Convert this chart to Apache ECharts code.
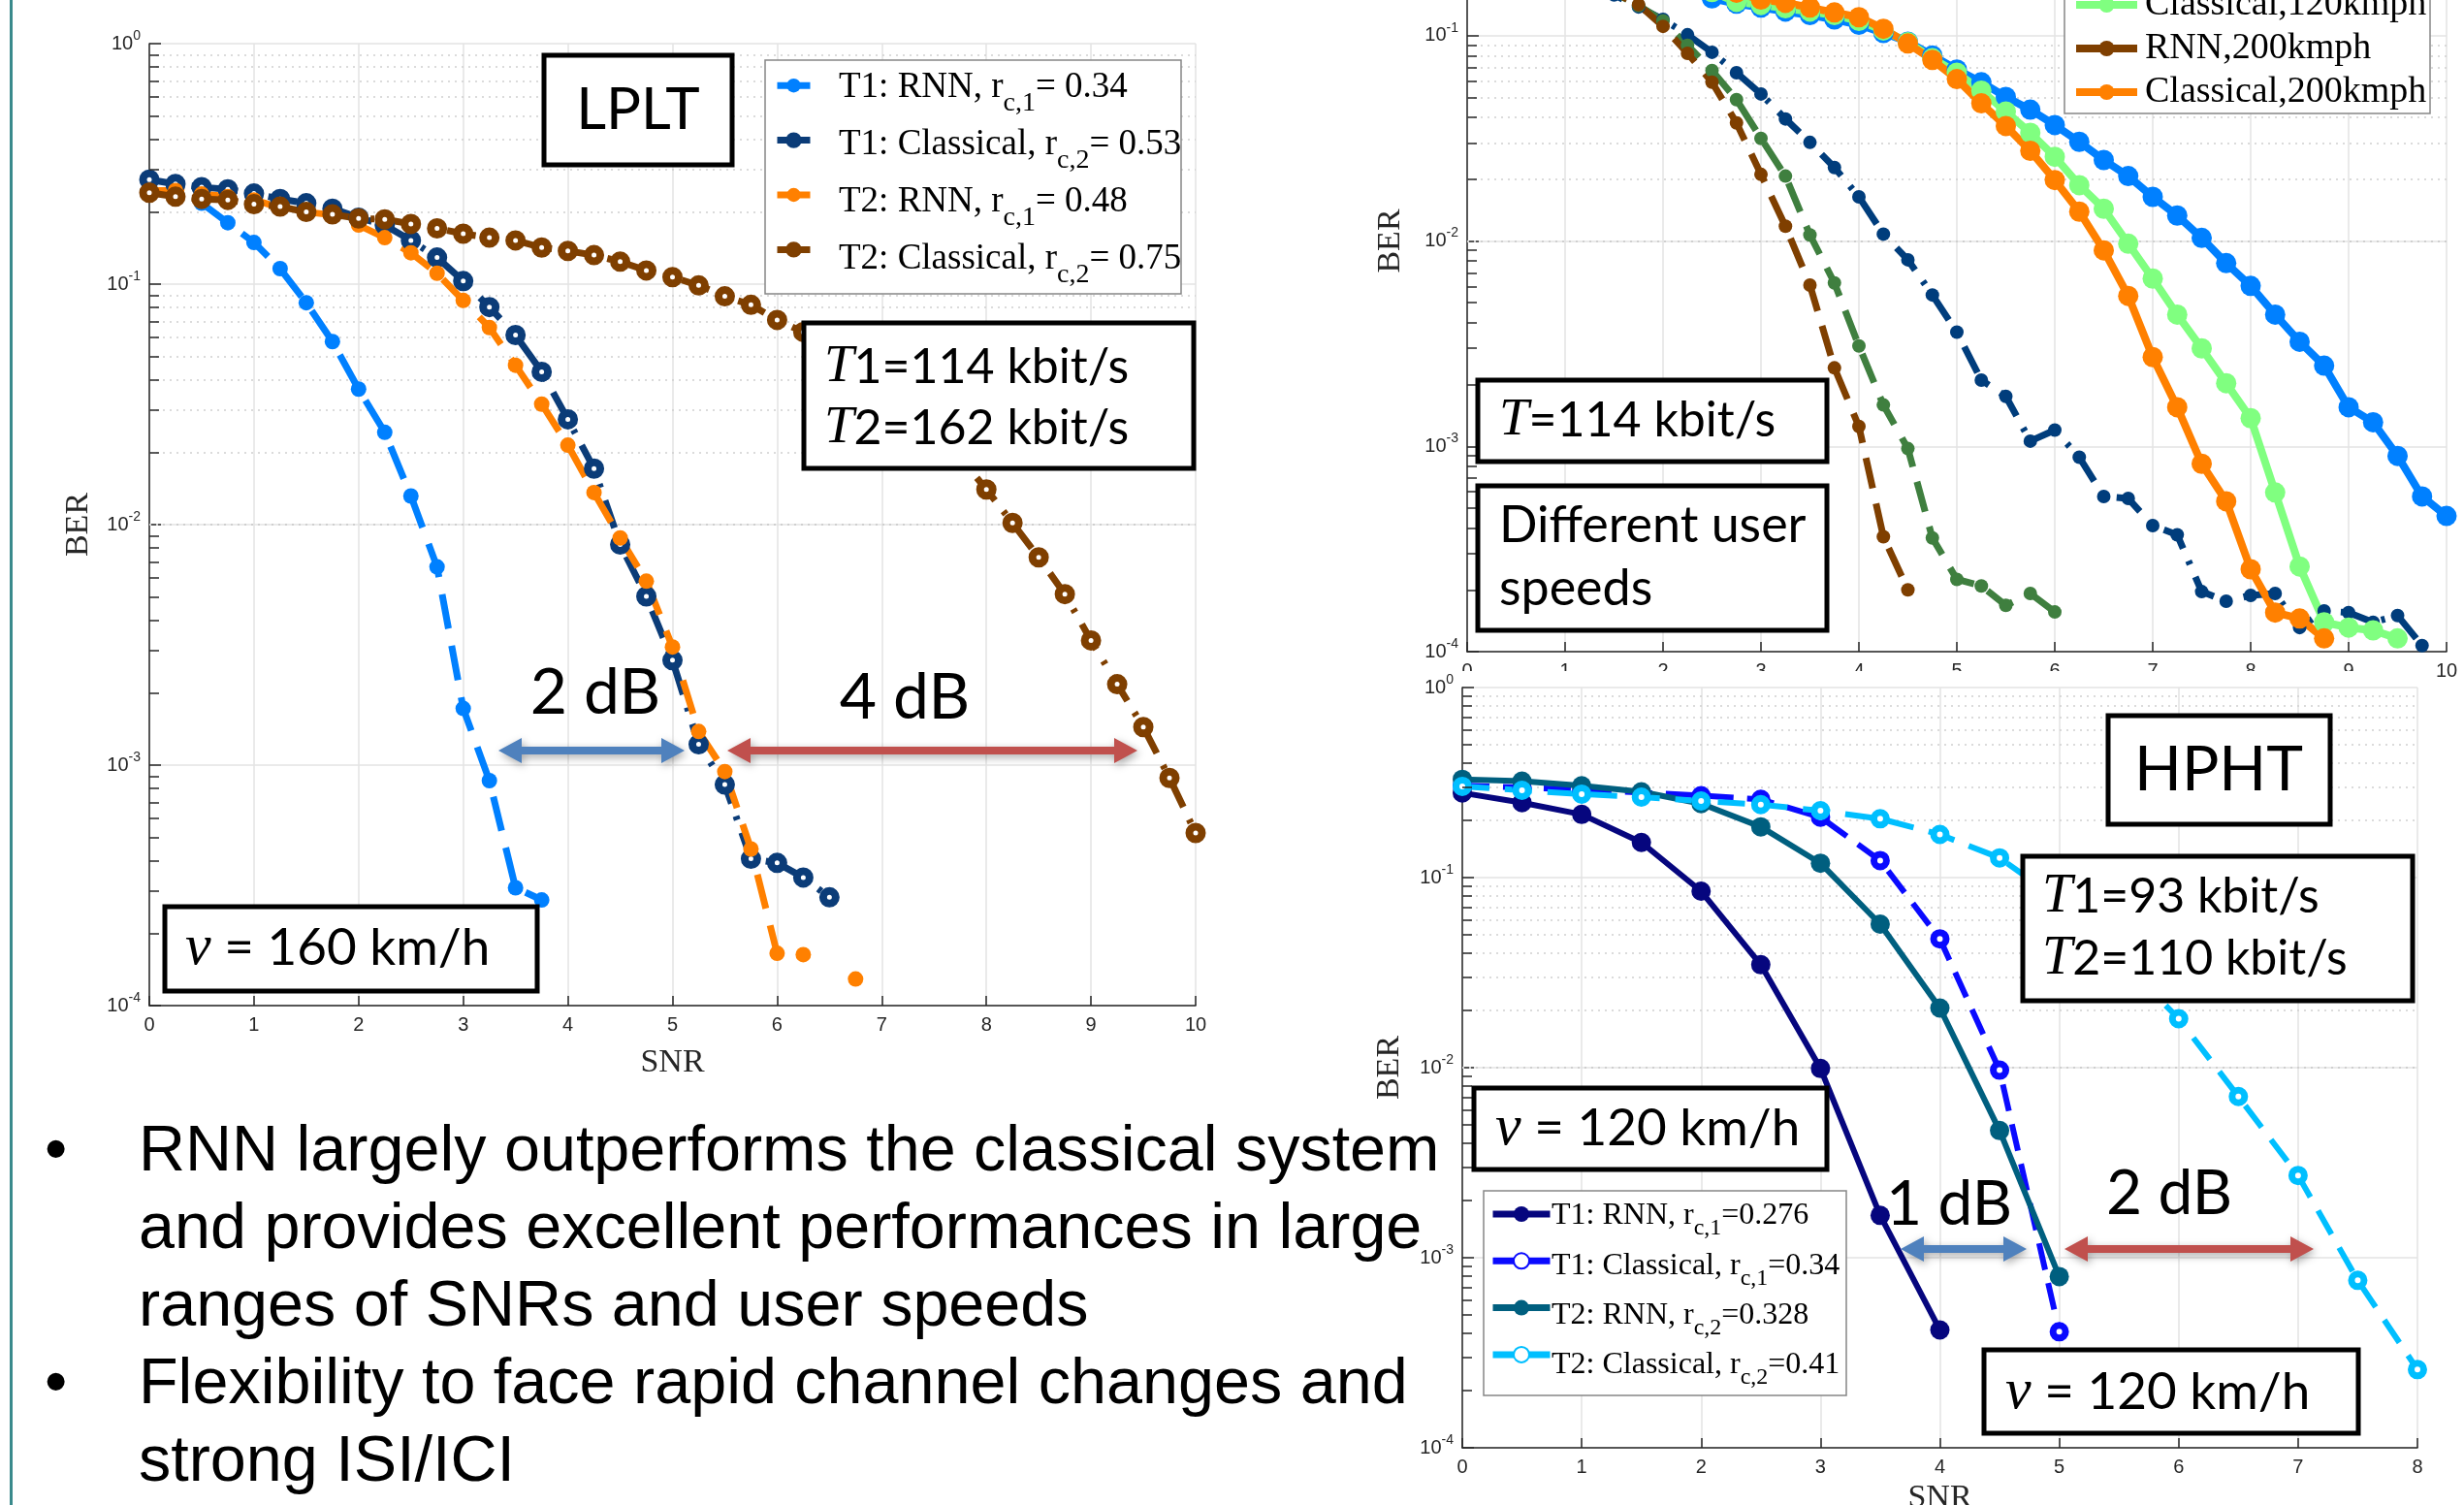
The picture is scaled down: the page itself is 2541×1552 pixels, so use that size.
<!DOCTYPE html>
<html><head><meta charset="utf-8">
<script src="https://cdn.jsdelivr.net/npm/echarts@6/dist/echarts.min.js"></script>
<style>
html,body{margin:0;padding:0;background:#fff;width:2541px;height:1552px;overflow:hidden;position:relative;}
#chartA{position:absolute;left:0;top:0;width:2541px;height:1552px;}
#chartB{position:absolute;left:1400px;top:692px;width:1108px;height:860px;background:#fff;}
#txt{position:absolute;left:0;top:1144px;font-family:'Liberation Sans',Arial,sans-serif;font-size:66.5px;line-height:80px;color:#000;white-space:nowrap;z-index:5;pointer-events:none;}
#txt .b{position:relative;padding-left:143px;}
#txt .dot{position:absolute;left:46px;top:0;}
</style></head><body>
<div id="chartA"></div>
<div id="chartB"></div>
<div id="txt">
<div class="b"><span class="dot">•</span>RNN largely outperforms the classical system<br>and provides excellent performances in large<br>ranges of SNRs and user speeds</div>
<div class="b"><span class="dot">•</span>Flexibility to face rapid channel changes and<br>strong ISI/ICI</div>
</div>
<script>
// ---------- shared SNR grids ----------
const snrQ = [0,0.25,0.5,0.75,1,1.25,1.5,1.75,2,2.25,2.5,2.75,3,3.25,3.5,3.75,4,4.25,4.5,4.75,5,5.25,5.5,5.75,6,6.25,6.5,6.75,7,7.25,7.5,7.75,8,8.25,8.5,8.75,9,9.25,9.5,9.75,10];
const snrH = [0,0.5,1,1.5,2,2.5,3,3.5,4,4.5,5,5.5,6,6.5,7,7.5,8];

// ---------- LPLT chart (left) ----------
const lpltNames = ['T1: RNN, rc,1 = 0.34','T1: Classical, rc,2 = 0.53','T2: RNN, rc,1 = 0.48','T2: Classical, rc,2 = 0.75'];
const lpltLegendParts = [['T1: RNN, r','c,1','= 0.34'],['T1: Classical, r','c,2','= 0.53'],['T2: RNN, r','c,1','= 0.48'],['T2: Classical, r','c,2','= 0.75']];
const lpltT1RNN = [0.25,0.235,0.217,0.18,0.149,0.116,0.0837,0.0577,0.0366,0.0242,0.01315,0.00667,0.00172,0.000862,0.000309,0.000275];
const lpltT1Cls = [0.272,0.261,0.253,0.248,0.238,0.226,0.217,0.206,0.189,0.176,0.152,0.129,0.103,0.0803,0.0614,0.0432,0.0274,0.0171,0.00827,0.00503,0.00273,0.00122,0.00083,0.000408,0.000392,0.000341,0.000282];
const lpltT2RNN = [0.245,0.245,0.237,0.231,0.224,0.208,0.1995,0.194,0.176,0.156,0.135,0.111,0.0855,0.066,0.046,0.0317,0.0214,0.0136,0.0088,0.00582,0.0031,0.00138,0.00094,0.000448,0.000165,0.000163,null,0.000129];
const lpltT2Cls = [0.240,0.231,0.226,0.224,0.215,0.21,0.1995,0.195,0.1875,0.186,0.178,0.1705,0.162,0.156,0.152,0.142,0.1375,0.132,0.124,0.114,0.107,0.0988,0.089,0.082,0.071,0.0632,0.055,0.046,0.038,0.031,0.025,0.019,0.0140,0.01016,0.00731,0.00514,0.0033,0.00217,0.00144,0.000884,0.000522];

// ---------- user speed chart (top right) ----------
const speedNames = ['RNN,40kmph','Classical,40kmph','RNN,120kmph','Classical,120kmph','RNN,200kmph','Classical,200kmph'];
const speedLegendShown = ['Classical,120kmph','RNN,200kmph','Classical,200kmph'];
const spdRNNa = [0.27,0.262,0.252,0.238,0.222,0.19,0.158,0.138,0.12,0.101,0.083,0.066,0.052,0.0393,0.0302,0.0228,0.0164,0.0108,0.0081,0.00546,0.0036,0.0021,0.00175,0.00106,0.0012,0.000885,0.00057,0.000557,0.000411,0.000371,0.000196,0.000176,0.000188,0.000192,0.000131,0.000158,0.000155,0.000139,0.00015,0.000107];
const spdClsA = [0.272,0.261,0.253,0.248,0.238,0.226,0.217,0.206,0.189,0.172,0.152,0.143,0.137,0.131,0.126,0.12,0.113,0.103,0.0935,0.08,0.0684,0.0593,0.0503,0.0436,0.0367,0.0304,0.0248,0.0207,0.0164,0.0133,0.01035,0.0078,0.00604,0.00438,0.00323,0.00247,0.00155,0.00131,0.000898,0.00057,0.000458];
const spdRNN120 = [0.27,0.262,0.252,0.238,0.222,0.192,0.162,0.14,0.118,0.0897,0.0676,0.0488,0.0316,0.0207,0.0107,0.00625,0.00308,0.00159,0.000975,0.000358,0.000225,0.000209,0.000168,0.000192,0.000156];
const spdCls120 = [0.272,0.262,0.255,0.248,0.238,0.227,0.217,0.206,0.192,0.178,0.163,0.146,0.141,0.136,0.131,0.126,0.118,0.106,0.093,0.0776,0.066,0.054,0.0427,0.0336,0.0257,0.0187,0.01436,0.0097,0.00656,0.00438,0.003,0.00203,0.00137,0.000596,0.00026,0.000139,0.000131,0.000127,0.000116];
const spdRNN200 = [0.27,0.262,0.252,0.238,0.222,0.192,0.162,0.1415,0.111,0.082,0.0593,0.0376,0.0211,0.0118,0.0061,0.00241,0.00125,0.000363,0.0002];
const spdCls200 = [0.275,0.265,0.257,0.25,0.24,0.23,0.22,0.21,0.2,0.188,0.175,0.162,0.15,0.1445,0.137,0.1297,0.123,0.108,0.0916,0.0762,0.0614,0.0468,0.0363,0.0275,0.0198,0.0139,0.009,0.0054,0.00272,0.00155,0.000822,0.00054,0.000252,0.000155,0.000145,0.000116];

// ---------- HPHT chart (bottom right) ----------
const hphtNames = ['T1: RNN, rc,1=0.276','T1: Classical, rc,1=0.34','T2: RNN, rc,2=0.328','T2: Classical, rc,2=0.41'];
const hphtLegendParts = [['T1: RNN, r','c,1','=0.276'],['T1: Classical, r','c,1','=0.34'],['T2: RNN, r','c,2','=0.328'],['T2: Classical, r','c,2','=0.41']];
const hphtT1RNN = [0.279,0.248,0.215,0.153,0.0848,0.0348,0.0099,0.00167,0.000417];
const hphtT1Cls = [0.305,0.298,0.29,0.28,0.27,0.258,0.208,0.123,0.0476,0.0097,0.000408];
const hphtT2RNN = [0.329,0.322,0.304,0.283,0.245,0.185,0.119,0.0569,0.0206,0.00467,0.000796];
const hphtT2Cls = [0.302,0.288,0.275,0.265,0.253,0.242,0.225,0.204,0.1686,0.127,0.076,0.038,0.0181,0.00705,0.00271,0.00076,0.000258];

// ---------- helpers ----------
const pairs = (xs, ys) => ys.map((v, i) => [xs[i], v]);
const minorVals = [];
for (let e = -4; e < 0; e++) for (let k = 2; k <= 9; k++) minorVals.push(+(k * Math.pow(10, e)).toPrecision(3));
const AX = '#262626';
const GRIDC = '#e3e3e3';
const SERIF = 'Liberation Serif';
const mctx = document.createElement('canvas').getContext('2d');
function measure(str, size) { mctx.font = size + 'px "' + SERIF + '"'; return mctx.measureText(str).width; }

// dotted minor grid lines of the log axis
function minorLines() {
  return {silent:true, z:1, symbol:['none','none'], label:{show:false}, emphasis:{disabled:true},
    lineStyle:{color:'#cfcfcf', type:[2,5], width:1.5}, animation:false,
    data: minorVals.map(v => ({yAxis: v}))};
}
// short inward minor ticks on the log axis (tickLen given in x-data units)
function minorTicks(tickLen) {
  return {silent:true, z:6, symbol:['none','none'], label:{show:false}, emphasis:{disabled:true},
    lineStyle:{color:AX, type:'solid', width:1.5}, animation:false,
    data: minorVals.map(v => [{coord:[0, v]}, {coord:[tickLen, v]}])};
}
function ser(name, gi, xs, ys, color, o) {
  const s = {type:'line', name, xAxisIndex:gi, yAxisIndex:gi, data:pairs(xs, ys),
    showSymbol:true, showAllSymbol:true, symbol:'circle', symbolSize:o.size,
    lineStyle:{color, width:o.lw, type:o.dash || 'solid', cap:'butt'},
    itemStyle: o.hollow ? {color:'#fff', borderColor:color, borderWidth:o.bw} : {color},
    emphasis:{disabled:true}, connectNulls:false, z:o.z || 3, animation:false};
  if (o.minor) s.markLine = minorLines();
  if (o.ticks) s.markLine = minorTicks(o.ticks);
  return s;
}
function mkX(gi, max, nameGap) {
  return {type:'value', gridIndex:gi, min:0, max, interval:1,
    name:'SNR', nameLocation:'middle', nameGap,
    nameTextStyle:{fontFamily:SERIF, fontSize:34, color:AX},
    axisLine:{show:true, onZero:false, lineStyle:{color:AX, width:1.5}},
    axisTick:{show:true, inside:true, length:10, lineStyle:{color:AX, width:1.5}},
    axisLabel:{margin:10, fontFamily:'Liberation Sans', fontSize:20, color:AX},
    splitLine:{show:true, lineStyle:{color:GRIDC, width:1.5}}};
}
function mkY(gi, nameGap) {
  return {type:'log', logBase:10, gridIndex:gi, min:1e-4, max:1,
    name:'BER', nameLocation:'middle', nameGap,
    nameTextStyle:{fontFamily:SERIF, fontSize:34, color:AX},
    axisLine:{show:true, lineStyle:{color:AX, width:1.5}},
    axisTick:{show:true, inside:true, length:12, lineStyle:{color:AX, width:1.5}},
    axisLabel:{margin:9, fontFamily:'Liberation Sans', fontSize:20, color:AX,
      formatter: v => '{b|10}{s|' + Math.round(Math.log10(v)) + '}',
      rich:{b:{fontFamily:'Liberation Sans', fontSize:20, color:AX},
            s:{fontFamily:'Liberation Sans', fontSize:14, color:AX, padding:[0,0,16,0]}}},
    splitLine:{show:true, lineStyle:{color:GRIDC, width:1.5}}};
}
// legend component draws the icons; labels with true subscripts are drawn as text next to them
const plain = (x, y, text, fs) => ({type:'text', z:21, x, y,
  style:{text, font:fs + 'px "' + SERIF + '"', fontFamily:SERIF, fontSize:fs, fill:'#000',
    align:'left', verticalAlign:'middle', textAlign:'left', textVerticalAlign:'middle'}});
function legendLabels(parts, x0, y0, pitch, fs, sfs, off) {
  const els = [];
  parts.forEach((p, i) => {
    const y = y0 + i * pitch;
    const w1 = measure(p[0], fs), w2 = measure(p[1], sfs);
    els.push(plain(x0, y, p[0], fs), plain(x0 + w1, y + off, p[1], sfs), plain(x0 + w1 + w2, y, p[2], fs));
  });
  return els;
}
const iconLegend = (names, left, top, gap, w, h, lw, extraStyle) => ({
  data: names.map((n, i) => extraStyle && extraStyle[i] ? {name:n, itemStyle:extraStyle[i]} : n),
  orient:'vertical', left, top, padding:0, itemGap:gap, itemWidth:w, itemHeight:h,
  itemTextGap:0, selectedMode:false, z:20, formatter: () => ' ',
  lineStyle:{width:lw, type:'solid'},
  textStyle:{fontSize:1, color:'rgba(0,0,0,0)'}});
const box = (x, y, w, h) => ({type:'rect', z:10, shape:{x, y, width:w, height:h}, style:{fill:'#fff', stroke:'#000', lineWidth:5}});
const thinBox = (x, y, w, h) => ({type:'rect', z:10, shape:{x, y, width:w, height:h}, style:{fill:'#fff', stroke:'#868686', lineWidth:1.5}});
const txt = (x, y, text, rich, align) => ({type:'text', z:12, x, y,
  style:{text, rich, align:align || 'left', verticalAlign:'middle', textAlign:align || 'left', textVerticalAlign:'middle', fill:'#000'}});
function arrow(x1, x2, y, color) {
  const hl = 24, hh = 13, st = 4;
  return {type:'polygon', z:11, shape:{points:[[x1,y],[x1+hl,y-hh],[x1+hl,y-st],[x2-hl,y-st],[x2-hl,y-hh],[x2,y],[x2-hl,y+hh],[x2-hl,y+st],[x1+hl,y+st],[x1+hl,y+hh]]},
    style:{fill:color, shadowBlur:8, shadowColor:'rgba(0,0,0,0.35)', shadowOffsetX:2, shadowOffsetY:3}};
}
const richBox = (tSize, aSize) => ({
  i:{fontFamily:SERIF, fontStyle:'italic', fontSize:tSize, fill:'#000', color:'#000'},
  a:{fontFamily:'Lato', fontSize:aSize, fill:'#000', color:'#000'}});
const BLUEA = '#4f81bd', REDA = '#c0504d';
const C = {lb:'#0080ff', nv:'#0b3c78', or:'#ff8000', br:'#7f3f00'};

// ---------- chart A ----------
const chartA = echarts.init(document.getElementById('chartA'), null, {renderer:'canvas'});
chartA.setOption({
  animation:false,
  grid:[
    {left:154, top:45, width:1079, height:992, outerBoundsMode:'none', containLabel:false},
    {left:1513, top:-175, width:1010, height:847, outerBoundsMode:'none', containLabel:false}
  ],
  xAxis:[mkX(0, 10, 42), mkX(1, 10, 42)],
  yAxis:[mkY(0, 56), mkY(1, 62)],
  legend:[
    iconLegend(lpltNames, 798, 81, 41, 34, 18, 7,
      [null, {color:C.nv, borderColor:C.nv}, null, {color:C.br, borderColor:C.br}]),
    {data:speedLegendShown, orient:'vertical', left:2137, top:-14, padding:0, itemGap:7,
      itemWidth:63, itemHeight:20, itemTextGap:5, selectedMode:false, z:20,
      lineStyle:{width:8, type:'solid'},
      formatter: n => '{f|' + n + '}',
      textStyle:{fontFamily:SERIF, fontSize:38, color:'#000',
        rich:{f:{fontFamily:SERIF, fontSize:38, color:'#000', padding:[0,0,0,3]}}}}
  ],
  series:[
    ser(lpltNames[0], 0, snrQ, lpltT1RNN, C.lb, {size:16, lw:7, dash:[36,18], minor:true}),
    ser(lpltNames[1], 0, snrQ, lpltT1Cls, C.nv, {size:13, lw:7, dash:[30,14,4,14], hollow:true, bw:8, ticks:0.093}),
    ser(lpltNames[2], 0, snrQ, lpltT2RNN, C.or, {size:16, lw:7, dash:[36,18]}),
    ser(lpltNames[3], 0, snrQ, lpltT2Cls, C.br, {size:13, lw:7, dash:[30,14,4,14], hollow:true, bw:8}),
    ser(speedNames[0], 1, snrQ, spdRNNa, '#003d7c', {size:14, lw:7, dash:[30,14,4,14], minor:true}),
    ser(speedNames[1], 1, snrQ, spdClsA, '#0080ff', {size:21, lw:8, ticks:0.099}),
    ser(speedNames[2], 1, snrQ, spdRNN120, '#3f7f3f', {size:14, lw:7, dash:[32,16]}),
    ser(speedNames[3], 1, snrQ, spdCls120, '#80ff80', {size:21, lw:8}),
    ser(speedNames[4], 1, snrQ, spdRNN200, '#7f3f00', {size:14, lw:7, dash:[32,16]}),
    ser(speedNames[5], 1, snrQ, spdCls200, '#ff8000', {size:21, lw:8})
  ],
  graphic:[
    {type:'rect', z:10, shape:{x:10, y:0, width:3, height:1552}, style:{fill:'#3a8a8c'}},
    thinBox(789, 62, 429, 241),
    thinBox(2129, -20, 377, 137),
    box(561, 57, 194, 113),
    txt(658, 114, '{a|LPLT}', {a:{fontFamily:'Lato', fontSize:60, fill:'#000'}}, 'center'),
    box(829, 333, 402, 150),
    txt(850, 379, '{i|T}{a|1=114 kbit/s}', richBox(55, 50)),
    txt(850, 442, '{i|T}{a|2=162 kbit/s}', richBox(55, 50)),
    box(170, 935, 384, 87),
    txt(191, 978, '{i|v}{a| = 160 km/h}', richBox(60, 53)),
    txt(614, 715, '{a|2 dB}', {a:{fontFamily:'Lato', fontSize:66, fill:'#000'}}, 'center'),
    txt(933, 720, '{a|4 dB}', {a:{fontFamily:'Lato', fontSize:66, fill:'#000'}}, 'center'),
    arrow(514, 706, 774, BLUEA),
    arrow(750, 1173, 774, REDA),
    box(1524, 392, 360, 84),
    txt(1546, 434, '{i|T}{a|=114 kbit/s}', richBox(55, 50)),
    box(1524, 501, 360, 149),
    txt(1546, 542, '{a|Different user}', richBox(56, 52)),
    txt(1546, 607, '{a|speeds}', richBox(56, 52))
  ].concat(legendLabels(lpltLegendParts, 865, 90, 59, 37, 28, 17))
});

// ---------- chart B (div origin 1400, 692) ----------
const chartB = echarts.init(document.getElementById('chartB'), null, {renderer:'canvas'});
chartB.setOption({
  animation:false,
  grid:[{left:108, top:17, width:985, height:784, outerBoundsMode:'none', containLabel:false}],
  xAxis:[mkX(0, 8, 34)],
  yAxis:[mkY(0, 58)],
  legend:[iconLegend(hphtNames, 136, 552, 31.3, 59, 20, 7)],
  series:[
    ser(hphtNames[0], 0, snrH, hphtT1RNN, '#06067e', {size:20, lw:6, minor:true}),
    ser(hphtNames[1], 0, snrH, hphtT1Cls, '#0a0aff', {size:13, lw:6, dash:[28,14], hollow:true, bw:7, ticks:0.081}),
    ser(hphtNames[2], 0, snrH, hphtT2RNN, '#005f7f', {size:20, lw:6}),
    ser(hphtNames[3], 0, snrH, hphtT2Cls, '#00bfff', {size:13, lw:6, dash:[28,16], hollow:true, bw:7})
  ],
  graphic:[
    thinBox(130, 536, 374, 211),
    box(774, 46, 229, 112),
    txt(888, 102, '{a|HPHT}', {a:{fontFamily:'Lato', fontSize:64, fill:'#000'}}, 'center'),
    box(686, 191, 402, 149),
    txt(706, 233, '{i|T}{a|1=93 kbit/s}', richBox(56, 50)),
    txt(706, 297, '{i|T}{a|2=110 kbit/s}', richBox(56, 50)),
    box(120, 430, 364, 84),
    txt(142, 472, '{i|v}{a| = 120 km/h}', richBox(60, 53)),
    box(646, 700, 386, 86),
    txt(668, 744, '{i|v}{a| = 120 km/h}', richBox(60, 53)),
    txt(610, 550, '{a|1 dB}', {a:{fontFamily:'Lato', fontSize:64, fill:'#000'}}, 'center'),
    txt(837, 539, '{a|2 dB}', {a:{fontFamily:'Lato', fontSize:64, fill:'#000'}}, 'center'),
    arrow(560, 690, 596, BLUEA),
    arrow(729, 986, 596, REDA)
  ].concat(legendLabels(hphtLegendParts, 200, 562, 51.3, 32, 24, 13))
});
</script>
</body></html>
